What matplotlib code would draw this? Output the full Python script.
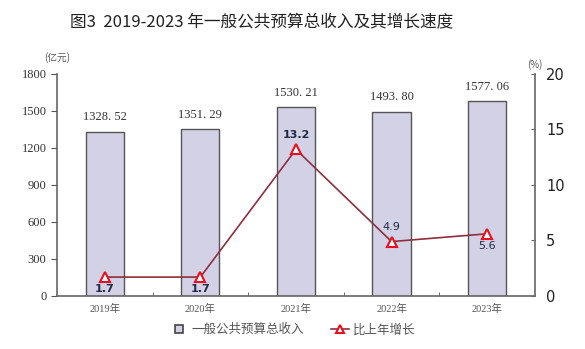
import matplotlib.pyplot as plt
from matplotlib.lines import Line2D
import numpy as np

plt.rcParams['font.family'] = ['Liberation Serif', 'Noto Sans CJK SC']

years = ['2019年', '2020年', '2021年', '2022年', '2023年']
revenue = [1328.52, 1351.29, 1530.21, 1493.80, 1577.06]
growth = [1.7, 1.7, 13.2, 4.9, 5.6]
label_pos = ['below', 'below', 'above', 'above', 'below']

fig = plt.figure(figsize=(5.85, 3.49), dpi=100)
ax = fig.add_axes([0.0974, 0.152, 0.817, 0.636])
ax2 = ax.twinx()

x = np.arange(len(years))
ax.bar(x, revenue, width=0.4, color='#d3d1e6', edgecolor='#555555', linewidth=1.0, zorder=2)
for xi, v in zip(x, revenue):
    ax.text(xi, v + 70, f'{v:.2f}'.replace('.', '. '), ha='center', va='bottom',
            fontsize=9, color='#333333')

ax.set_xlim(-0.5, 4.5)
ax.set_ylim(0, 1800)
ax.set_yticks(range(0, 1801, 300))
ax.set_xticks(x)
ax.set_xticklabels(years, fontsize=7.5, color='#555555')
ax.set_xticks(np.arange(0.5, 4.5, 1), minor=True)
ax.tick_params(axis='x', which='major', length=0, pad=6)
ax.tick_params(axis='x', which='minor', direction='in', length=3, color='#555555')
ax.tick_params(axis='y', direction='out', length=4, labelsize=9, colors='#555555',
               labelcolor='#333333')
for s in ['top', 'right']:
    ax.spines[s].set_visible(False)
for s in ['left', 'bottom']:
    ax.spines[s].set_color('#666666')
    ax.spines[s].set_linewidth(1.2)

ax2.plot(x, growth, color='#8e2f3c', linewidth=1.2, marker='^', markersize=7,
         markerfacecolor='white', markeredgecolor='#e8101e', markeredgewidth=1.5, zorder=3)
for i, (xi, g, p) in enumerate(zip(x, growth, label_pos)):
    off = 1.3 if p == 'above' else -1.1
    ax2.text(xi, g + off, f'{g}', ha='center', va='center', fontsize=8,
             fontweight='bold' if i < 3 else 'normal', color='#1f2a44', family='DejaVu Sans')
ax2.set_ylim(0, 20)
ax2.set_yticks(range(0, 21, 5))
ax2.tick_params(axis='y', direction='in', length=3, labelsize=10.5, colors='#666666',
                labelcolor='#222222', pad=8)
for lab in ax2.get_yticklabels():
    lab.set_family('DejaVu Sans')
for s in ['top', 'left', 'bottom']:
    ax2.spines[s].set_visible(False)
ax2.spines['right'].set_color('#666666')
ax2.spines['right'].set_linewidth(1.2)

fig.text(0.448, 0.935, '图3  2019-2023 年一般公共预算总收入及其增长速度', ha='center', va='center',
         fontsize=12, color='#222222', family=['Noto Sans CJK SC'])
fig.text(0.097, 0.835, '(亿元)', ha='center', va='center', fontsize=7, color='#555555',
         family=['Noto Sans CJK SC'])
fig.text(0.915, 0.815, '(%)', ha='center', va='center', fontsize=7, color='#555555',
         family=['Noto Sans CJK SC'])

handles = [
    Line2D([], [], linestyle='none', marker='s', markersize=6, markerfacecolor='#d3d1e6',
           markeredgecolor='#444444', markeredgewidth=1.2),
    Line2D([], [], color='#8e2f3c', linewidth=1.2, marker='^', markersize=6,
           markerfacecolor='white', markeredgecolor='#e8101e', markeredgewidth=1.5),
]
leg = fig.legend(handles, ['一般公共预算总收入', '比上年增长'], loc='center',
                 bbox_to_anchor=(0.5, 0.055), ncol=2, frameon=False, handlelength=1.4,
                 handletextpad=0.3, columnspacing=2.2,
                 prop={'family': ['Noto Sans CJK SC'], 'size': 9})
for t in leg.get_texts():
    t.set_color('#555555')

fig.savefig('out.png', dpi=100)
